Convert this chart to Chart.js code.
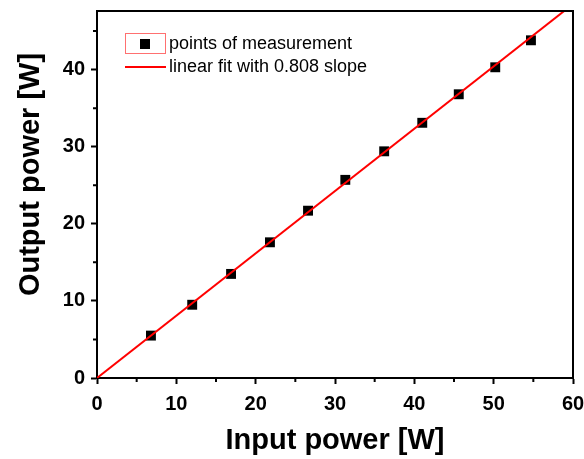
<!DOCTYPE html>
<html>
<head>
<meta charset="utf-8">
<script src="https://cdn.jsdelivr.net/npm/chart.js@4/dist/chart.umd.min.js"></script>
<style>
  html, body { margin: 0; padding: 0; background: #fff; }
</style>
</head>
<body>
<canvas id="chart" width="584" height="459"></canvas>
<script>
// DATA
const inputPower = [6.8, 12.0, 16.9, 21.8, 26.6, 31.3, 36.2, 41.0, 45.6, 50.2, 54.7];
const outputPower = [5.5, 9.5, 13.5, 17.6, 21.7, 25.7, 29.4, 33.1, 36.8, 40.3, 43.8];
const fitX = [0, 60];
const fitY = [0, 48.5];
const pointsLabel = 'points of measurement';
const fitLabel = 'linear fit with 0.808 slope';
const xTitle = 'Input power [W]';
const yTitle = 'Output power [W]';

const FONT = '"Liberation Sans", Arial, sans-serif';

// frame on the top and right side + short minor ticks + y title (sits above centre)
const framePlugin = {
  id: 'frame',
  afterDraw(chart) {
    const { ctx, chartArea: a, scales } = chart;
    ctx.save();
    ctx.strokeStyle = '#000';
    ctx.lineWidth = 2;
    ctx.beginPath();
    ctx.moveTo(a.left, a.top);
    ctx.lineTo(a.right, a.top);
    ctx.lineTo(a.right, a.bottom);
    ctx.stroke();

    // minor ticks
    ctx.beginPath();
    scales.x.ticks.forEach(t => {
      if (t.value % 10 !== 0) {
        let px = scales.x.getPixelForValue(t.value);
        ctx.moveTo(px, a.bottom);
        ctx.lineTo(px, a.bottom + 4);
      }
    });
    scales.y.ticks.forEach(t => {
      if (t.value % 10 !== 0) {
        let py = scales.y.getPixelForValue(t.value);
        ctx.moveTo(a.left, py);
        ctx.lineTo(a.left - 4, py);
      }
    });
    ctx.stroke();

    // y axis title
    ctx.translate(30.5, (a.top + a.bottom) / 2 - 20);
    ctx.rotate(-Math.PI / 2);
    ctx.fillStyle = '#000';
    ctx.font = 'bold 29px ' + FONT;
    ctx.textAlign = 'center';
    ctx.textBaseline = 'middle';
    ctx.fillText(yTitle, 0, 0);
    ctx.restore();
  }
};

// origin-style legend inside the plot
const legendPlugin = {
  id: 'originLegend',
  afterDraw(chart) {
    const { ctx, chartArea: a } = chart;
    let x0 = a.left + 28;
    let y0 = a.top + 32;
    ctx.save();
    ctx.strokeStyle = '#ff7070';
    ctx.lineWidth = 1;
    ctx.strokeRect(x0 + 0.5, y0 - 9.5, 40, 20);
    ctx.fillStyle = '#000';
    ctx.fillRect(x0 + 15, y0 - 4, 10, 10);

    ctx.strokeStyle = '#ff0000';
    ctx.lineWidth = 2;
    ctx.beginPath();
    ctx.moveTo(x0, y0 + 24);
    ctx.lineTo(x0 + 41, y0 + 24);
    ctx.stroke();

    ctx.fillStyle = '#000';
    ctx.font = '18px ' + FONT;
    ctx.textBaseline = 'middle';
    ctx.fillText(pointsLabel, x0 + 44, y0 + 1);
    ctx.fillText(fitLabel, x0 + 44, y0 + 24);
    ctx.restore();
  }
};

const tickFont = { family: FONT, size: 20, weight: 'bold' };
const titleFont = { family: FONT, size: 29, weight: 'bold', lineHeight: 1 };

new Chart(document.getElementById('chart'), {
  type: 'scatter',
  data: {
    datasets: [{
      label: fitLabel,
      type: 'line',
      data: fitX.map((x, i) => ({ x: x, y: fitY[i] })),
      borderColor: '#ff0000',
      borderWidth: 2,
      pointRadius: 0,
      fill: false,
      order: 0
    }, {
      label: pointsLabel,
      data: inputPower.map((x, i) => ({ x: x, y: outputPower[i] })),
      backgroundColor: '#000',
      borderWidth: 0,
      pointStyle: 'rect',
      pointRadius: 7,
      order: 1
    }]
  },
  options: {
    responsive: false,
    animation: false,
    layout: { padding: { top: 11, right: 11, left: 0, bottom: 0 } },
    plugins: {
      legend: { display: false },
      tooltip: { enabled: false }
    },
    scales: {
      x: {
        type: 'linear',
        min: 0,
        max: 60,
        afterFit: s => { s.height = 81; s.paddingLeft = 0; s.paddingRight = 0; },
        border: { color: '#000', width: 2 },
        grid: {
          drawOnChartArea: false,
          tickLength: 6,
          tickWidth: 2,
          tickColor: c => (c.tick && c.tick.value % 10 === 0) ? '#000' : 'rgba(0,0,0,0)'
        },
        ticks: {
          stepSize: 5,
          includeBounds: false,
          autoSkip: false,
          maxRotation: 0,
          color: '#000',
          font: tickFont,
          padding: 8,
          callback: v => v % 10 === 0 ? v : ''
        },
        title: { display: true, text: xTitle, color: '#000', font: titleFont, padding: { top: 0, bottom: 4 } }
      },
      y: {
        type: 'linear',
        min: 0,
        max: 47.6,
        afterFit: s => { s.width = 97; s.paddingTop = 0; s.paddingBottom = 0; },
        border: { color: '#000', width: 2 },
        grid: {
          drawOnChartArea: false,
          tickLength: 6,
          tickWidth: 2,
          tickColor: c => (c.tick && c.tick.value % 10 === 0) ? '#000' : 'rgba(0,0,0,0)'
        },
        ticks: {
          stepSize: 5,
          includeBounds: false,
          autoSkip: false,
          color: '#000',
          font: tickFont,
          padding: 6,
          callback: v => v % 10 === 0 ? v : ''
        },
        title: { display: false, text: yTitle }
      }
    }
  },
  plugins: [framePlugin, legendPlugin]
});
</script>
</body>
</html>
